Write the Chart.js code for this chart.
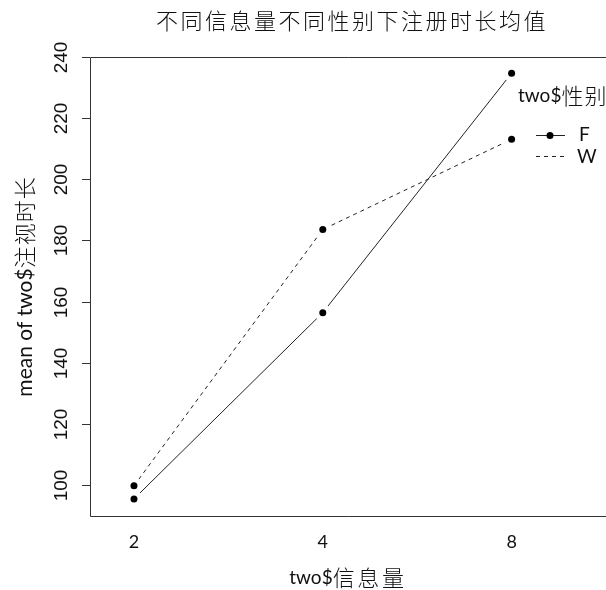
<!DOCTYPE html>
<html>
<head>
<meta charset="utf-8">
<script src="https://cdn.jsdelivr.net/npm/chart.js@4.4.1/dist/chart.umd.min.js"></script>
<style>
html,body{margin:0;padding:0;background:#fff}
canvas{display:block}
</style>
</head>
<body>
<canvas id="chart" width="606" height="590"></canvas>
<script>
// data
var levels = ['2', '4', '8'];
var meanF = [95.5, 156.4, 234.7];
var meanW = [99.8, 183.6, 213.1];
var yTicks = [100, 120, 140, 160, 180, 200, 220, 240];
var groups = ['F', 'W'];

var titre = '不同信息量不同性别下注册时长均值';
var titreX = 'two$信息量';
var titreY = 'mean of two$注视时长';
var titreLegende = 'two$性别';

function pts(vals) {
  return levels.map(function (l, i) { return { x: i + 1, y: vals[i] }; });
}

// split text into latin / cjk runs so each gets its own font
function runs(txt) {
  var out = [];
  for (var ch of txt) {
    var cjk = /[\u3000-\u9fff]/.test(ch);
    if (out.length && out[out.length - 1].cjk == cjk) out[out.length - 1].t += ch;
    else out.push({ t: ch, cjk: cjk });
  }
  return out;
}
function mixText(ctx, txt, x, y, latin, cjk, sp, align) {
  var r = runs(txt);
  var w = 0;
  r.forEach(function (p) {
    ctx.font = p.cjk ? cjk : latin;
    ctx.letterSpacing = p.cjk ? sp + 'px' : '0px';
    p.w = ctx.measureText(p.t).width;
    w += p.w;
  });
  var cx = align == 'left' ? x : x - w / 2;
  ctx.textAlign = 'left';
  ctx.textBaseline = 'middle';
  r.forEach(function (p) {
    ctx.font = p.cjk ? cjk : latin;
    ctx.letterSpacing = p.cjk ? sp + 'px' : '0px';
    ctx.fillText(p.t, cx, y);
    cx += p.w;
  });
  ctx.letterSpacing = '0px';
}

var CJK = '300 22px "Noto Sans CJK SC"';

var decor = {
  id: 'decor',
  afterDraw: function (chart) {
    var ctx = chart.ctx;
    var a = chart.chartArea;
    var x = chart.scales.x, y = chart.scales.y;
    ctx.save();
    // box (left, top, bottom)
    ctx.strokeStyle = '#333';
    ctx.lineWidth = 1;
    ctx.beginPath();
    ctx.moveTo(a.right, a.top + 0.5);
    ctx.lineTo(a.left + 0.5, a.top + 0.5);
    ctx.lineTo(a.left + 0.5, a.bottom + 0.5);
    ctx.lineTo(a.right, a.bottom + 0.5);
    ctx.stroke();
    // y ticks + rotated labels
    ctx.fillStyle = '#111';
    yTicks.forEach(function (v) {
      var py = Math.round(y.getPixelForValue(v)) + 0.5;
      ctx.beginPath();
      ctx.moveTo(a.left - 8, py);
      ctx.lineTo(a.left, py);
      ctx.stroke();
      ctx.save();
      ctx.translate(62, py);
      ctx.rotate(-Math.PI / 2);
      ctx.font = '19px "Liberation Sans"';
      ctx.textAlign = 'center';
      ctx.textBaseline = 'middle';
      ctx.fillText(String(v), 0, 0);
      ctx.restore();
    });
    // x labels
    ctx.font = '18px Lato';
    ctx.textAlign = 'center';
    ctx.textBaseline = 'middle';
    levels.forEach(function (l, i) {
      ctx.fillText(l, x.getPixelForValue(i + 1), 542);
    });
    // titles
    mixText(ctx, titre, (a.left + a.right) / 2 + 4, 21, '20px Lato', CJK, 2.5, 'center');
    mixText(ctx, titreX, (a.left + a.right) / 2, 578, '19px Lato', CJK, 2.7, 'center');
    ctx.save();
    ctx.translate(25, (a.top + a.bottom) / 2);
    ctx.rotate(-Math.PI / 2);
    mixText(ctx, titreY, 0, 0, '21px Lato', CJK, 1, 'center');
    ctx.restore();
    // legend
    mixText(ctx, titreLegende, 518, 96, '19px Lato', CJK, 1, 'left');
    ctx.strokeStyle = '#222';
    ctx.beginPath();
    ctx.moveTo(536, 135.5); ctx.lineTo(565, 135.5);
    ctx.stroke();
    ctx.fillStyle = '#000';
    ctx.beginPath();
    ctx.arc(550, 135.5, 3.5, 0, Math.PI * 2);
    ctx.fill();
    ctx.setLineDash([4, 4]);
    ctx.beginPath();
    ctx.moveTo(536, 156.5); ctx.lineTo(565, 156.5);
    ctx.stroke();
    ctx.setLineDash([]);
    ctx.fillStyle = '#111';
    ctx.font = '19px Lato';
    ctx.textAlign = 'left';
    ctx.fillText(groups[0], 579, 135);
    ctx.fillText(groups[1], 577, 157);
    ctx.restore();
  }
};

new Chart(document.getElementById('chart'), {
  type: 'scatter',
  data: {
    datasets: [
      // black dots (on top)
      { label: groups[0] + ' pt', data: pts(meanF), showLine: false, pointRadius: 3.5, pointBackgroundColor: '#000', pointBorderWidth: 0, order: 1 },
      { label: groups[1] + ' pt', data: pts(meanW), showLine: false, pointRadius: 3.5, pointBackgroundColor: '#000', pointBorderWidth: 0, order: 1 },
      // white halos = line gaps of type="b"
      { label: 'halo F', data: pts(meanF), showLine: false, pointRadius: 8.5, pointBackgroundColor: '#fff', pointBorderWidth: 0, order: 2 },
      { label: 'halo W', data: pts(meanW), showLine: false, pointRadius: 8.5, pointBackgroundColor: '#fff', pointBorderWidth: 0, order: 2 },
      // lines
      { label: groups[0], data: pts(meanF), showLine: true, borderColor: '#222', borderWidth: 1, pointRadius: 0, order: 3 },
      { label: groups[1], data: pts(meanW), showLine: true, borderColor: '#222', borderWidth: 1, borderDash: [4, 4], pointRadius: 0, order: 3 }
    ]
  },
  options: {
    responsive: false,
    animation: false,
    layout: { autoPadding: false, padding: { left: 90, top: 57, right: 0, bottom: 74 } },
    plugins: { legend: { display: false }, tooltip: { enabled: false }, title: { display: false } },
    scales: {
      x: { type: 'linear', display: false, min: 0.767, max: 3.5 },
      y: { type: 'linear', display: false, min: 89.9, max: 240 }
    }
  },
  plugins: [decor]
});
</script>
</body>
</html>
